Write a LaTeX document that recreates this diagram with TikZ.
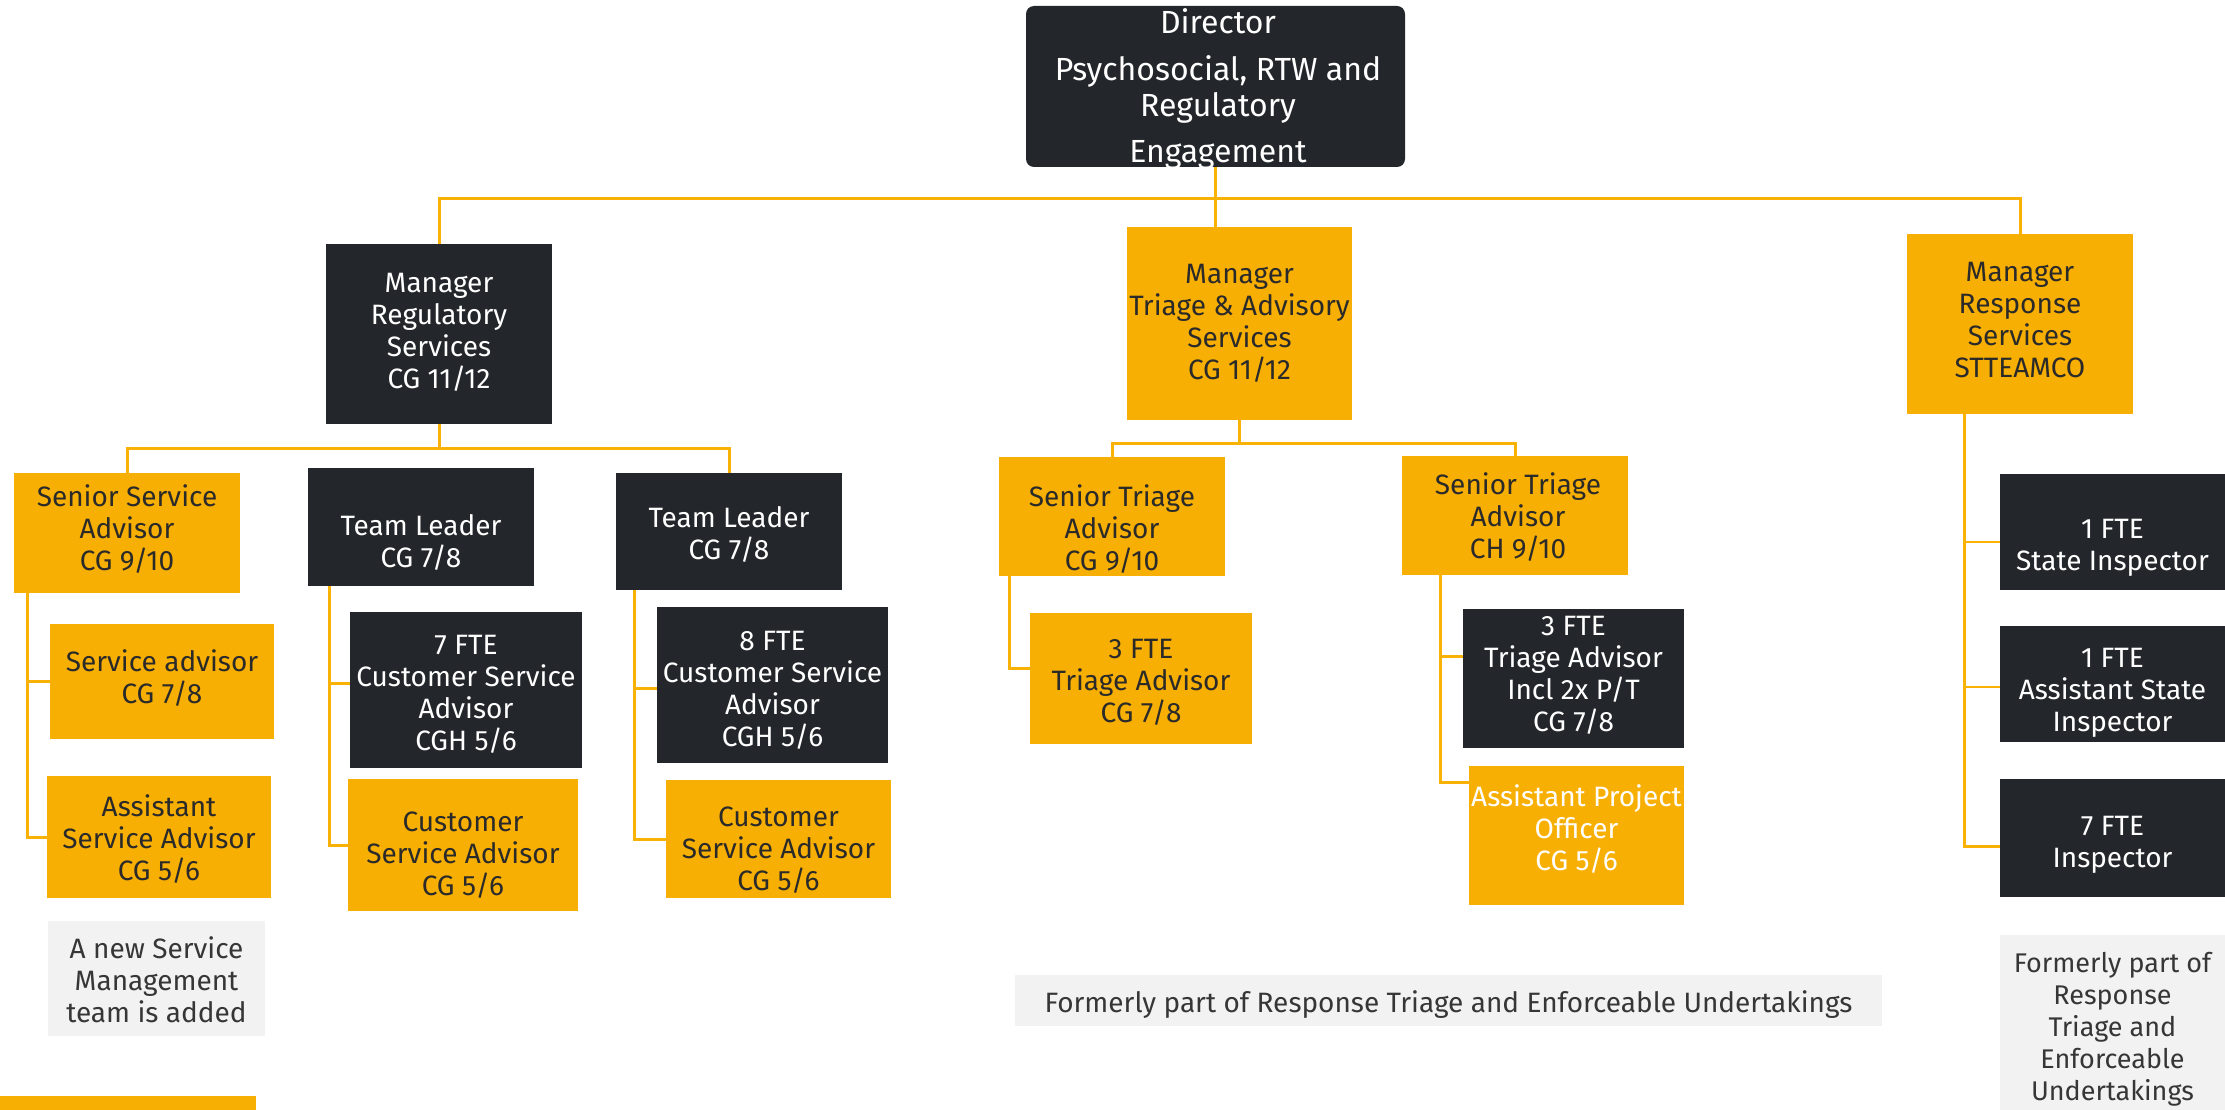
\documentclass[tikz,border=0pt]{standalone}
\usepackage{fontspec}
\setmainfont{Fira Sans}
\usetikzlibrary{calc}
\definecolor{orgc}{HTML}{F8AF03}
\definecolor{darkc}{HTML}{23272B}
\definecolor{linec}{HTML}{F9B104}
\definecolor{notec}{HTML}{F2F2F2}
\definecolor{notetxt}{HTML}{363636}
\definecolor{inkc}{HTML}{2A2A2A}
\tikzset{
  box/.style={rectangle, inner sep=0pt, outer sep=0pt},
  obox/.style={box, fill=orgc},
  dbox/.style={box, fill=darkc},
  notebox/.style={box, fill=notec},
  sz/.style 2 args={minimum width=#1pt, minimum height=#2pt},
  txt/.style={inner sep=0pt, align=center, font=\fontsize{28}{32}\selectfont},
  otxt/.style={txt, text=inkc},
  wtxt/.style={txt, text=white},
  ntxt/.style={txt, text=notetxt},
  conn/.style={draw=linec, line width=3pt},
}
\begin{document}
\begin{tikzpicture}[x=1pt, y=-1pt]
\useasboundingbox (0,0) rectangle (2225,1110);

% --- director ---
\node[dbox, sz={379}{161}, rounded corners=8pt] (dir) at (1215.5,86.5) {};
\node[wtxt, font=\fontsize{32}{36}\selectfont] (dir-t) at (1218,88.5)
  {Director\\[11pt]Psychosocial, RTW and\\Regulatory\\[10pt]Engagement};

% --- managers ---
\node[dbox, sz={226}{180}] (mgrR) at (439,334) {};
\node[wtxt] (mgrR-t) at ($(mgrR.center)+(0,-2)$) {Manager\\Regulatory\\Services\\CG 11/12};
\node[obox, sz={225}{193}] (mgrT) at (1239.5,323.5) {};
\node[otxt] (mgrT-t) at (mgrT.center) {Manager\\Triage \& Advisory\\Services\\CG 11/12};
\node[obox, sz={226}{180}] (mgrS) at (2020,324) {};
\node[otxt] (mgrS-t) at ($(mgrS.center)+(0,-4)$) {Manager\\Response\\Services\\STTEAMCO};

% --- regulatory services ---
\node[obox, sz={226}{120}] (ssa) at (127,533) {};
\node[otxt] (ssa-t) at ($(ssa.center)+(0,-4)$) {Senior Service\\Advisor\\CG 9/10};
\node[dbox, sz={226}{118}] (tl1) at (421,527) {};
\node[wtxt] (tl1-t) at ($(tl1.center)+(0,15)$) {Team Leader\\CG 7/8};
\node[dbox, sz={226}{117}] (tl2) at (729,531.5) {};
\node[wtxt] (tl2-t) at ($(tl2.center)+(0,3)$) {Team Leader\\CG 7/8};
\node[obox, sz={224}{115}] (sa) at (162,681.5) {};
\node[otxt] (sa-t) at ($(sa.center)+(0,-3)$) {Service advisor\\CG 7/8};
\node[obox, sz={224}{122}] (asa) at (159,837) {};
\node[otxt] (asa-t) at ($(asa.center)+(0,2)$) {Assistant\\Service Advisor\\CG 5/6};
\node[dbox, sz={232}{156}] (fte7) at (466,690) {};
\node[wtxt] (fte7-t) at ($(fte7.center)+(0,4)$) {7 FTE\\Customer Service\\Advisor\\CGH 5/6};
\node[obox, sz={230}{132}] (csa1) at (463,845) {};
\node[otxt] (csa1-t) at ($(csa1.center)+(0,10)$) {Customer\\Service Advisor\\CG 5/6};
\node[dbox, sz={231}{156}] (fte8) at (772.5,685) {};
\node[wtxt] (fte8-t) at ($(fte8.center)+(0,5)$) {8 FTE\\Customer Service\\Advisor\\CGH 5/6};
\node[obox, sz={225}{118}] (csa2) at (778.5,839) {};
\node[otxt] (csa2-t) at ($(csa2.center)+(0,11)$) {Customer\\Service Advisor\\CG 5/6};
\node[notebox, sz={217}{115}] (noteA) at (156.5,978.5) {};
\node[ntxt] (noteA-t) at ($(noteA.center)+(0,1)$) {A new Service\\Management\\team is added};
\node[obox, sz={256}{14}] (bar) at (128,1103) {};

% --- triage & advisory services ---
\node[obox, sz={226}{119}] (st1) at (1112,516.5) {};
\node[otxt] (st1-t) at ($(st1.center)+(0,13)$) {Senior Triage\\Advisor\\CG 9/10};
\node[obox, sz={226}{119}] (st2) at (1515,515.5) {};
\node[otxt] (st2-t) at ($(st2.center)+(3,2)$) {Senior Triage\\Advisor\\CH 9/10};
\node[obox, sz={222}{131}] (ta3) at (1141,678.5) {};
\node[otxt] (ta3-t) at ($(ta3.center)+(0,4)$) {3 FTE\\Triage Advisor\\CG 7/8};
\node[dbox, sz={221}{139}] (ta3d) at (1573.5,678.5) {};
\node[wtxt] (ta3d-t) at ($(ta3d.center)+(0,-3)$) {3 FTE\\Triage Advisor\\Incl 2x P/T\\CG 7/8};
\node[obox, sz={215}{139}] (apo) at (1576.5,835.5) {};
\node[wtxt] (apo-t) at ($(apo.center)+(0,-6)$) {Assistant Project\\Officer\\CG 5/6};
\node[notebox, sz={867}{51}] (noteB) at (1448.5,1000.5) {};
\node[ntxt] (noteB-t) at ($(noteB.center)+(0,4)$) {Formerly part of Response Triage and Enforceable Undertakings};

% --- response services ---
\node[dbox, sz={225}{116}] (si) at (2112.5,532) {};
\node[wtxt] (si-t) at ($(si.center)+(0,16)$) {1 FTE\\State Inspector};
\node[dbox, sz={225}{116}] (asi) at (2112.5,684) {};
\node[wtxt] (asi-t) at ($(asi.center)+(0,9)$) {1 FTE\\Assistant State\\Inspector};
\node[dbox, sz={225}{118}] (insp) at (2112.5,838) {};
\node[wtxt] (insp-t) at ($(insp.center)+(0,7)$) {7 FTE\\Inspector};
\node[notebox, sz={225}{175}] (noteC) at (2112.5,1022.5) {};
\node[ntxt, font=\fontsize{27}{32}\selectfont] (noteC-t) at ($(noteC.center)+(0,7)$)
  {Formerly part of\\Response\\Triage and\\Enforceable\\Undertakings};

% --- connectors ---
\coordinate (bus) at (0,199);
\coordinate (busR) at (0,448);
\coordinate (busT) at (0,443);

\draw[conn] (dir.south) -- (dir.south |- mgrT.north);
\draw[conn] (mgrR.north) -- (mgrR.north |- bus) -- (mgrS.north |- bus) -- (mgrS.north);

\draw[conn] (mgrR.south) -- (mgrR.south |- busR);
\draw[conn] (ssa.north) -- (ssa.north |- busR) -- (tl2.north |- busR) -- (tl2.north);

\draw[conn] ($(ssa.south west)+(13,0)$) |- (sa.west);
\draw[conn] ($(ssa.south west)+(13,0)$) |- (asa.west);
\draw[conn] ($(tl1.south west)+(21,0)$) |- ($(fte7.west)+(0,-7)$);
\draw[conn] ($(tl1.south west)+(21,0)$) |- (csa1.west);
\draw[conn] ($(tl2.south west)+(18,0)$) |- ($(fte8.west)+(0,3)$);
\draw[conn] ($(tl2.south west)+(18,0)$) |- (csa2.west);

\draw[conn] (mgrT.south) -- (mgrT.south |- busT);
\draw[conn] (st1.north) -- (st1.north |- busT) -- (st2.north |- busT) -- (st2.north);
\draw[conn] ($(st1.south west)+(10,0)$) |- ($(ta3.west)+(0,-10)$);
\draw[conn] ($(st2.south west)+(38,0)$) |- ($(ta3d.west)+(0,-22)$);
\draw[conn] ($(st2.south west)+(38,0)$) |- ($(apo.north west)+(0,16)$);

\draw[conn] ($(mgrS.south west)+(57,0)$) |- ($(insp.west)+(0,8)$);
\draw[conn, line width=1.6pt] ($(mgrS.south west)+(57,0)$) |- ($(si.west)+(0,10)$);
\draw[conn, line width=1.6pt] ($(mgrS.south west)+(57,0)$) |- ($(asi.west)+(0,3)$);
\end{tikzpicture}
\end{document}
